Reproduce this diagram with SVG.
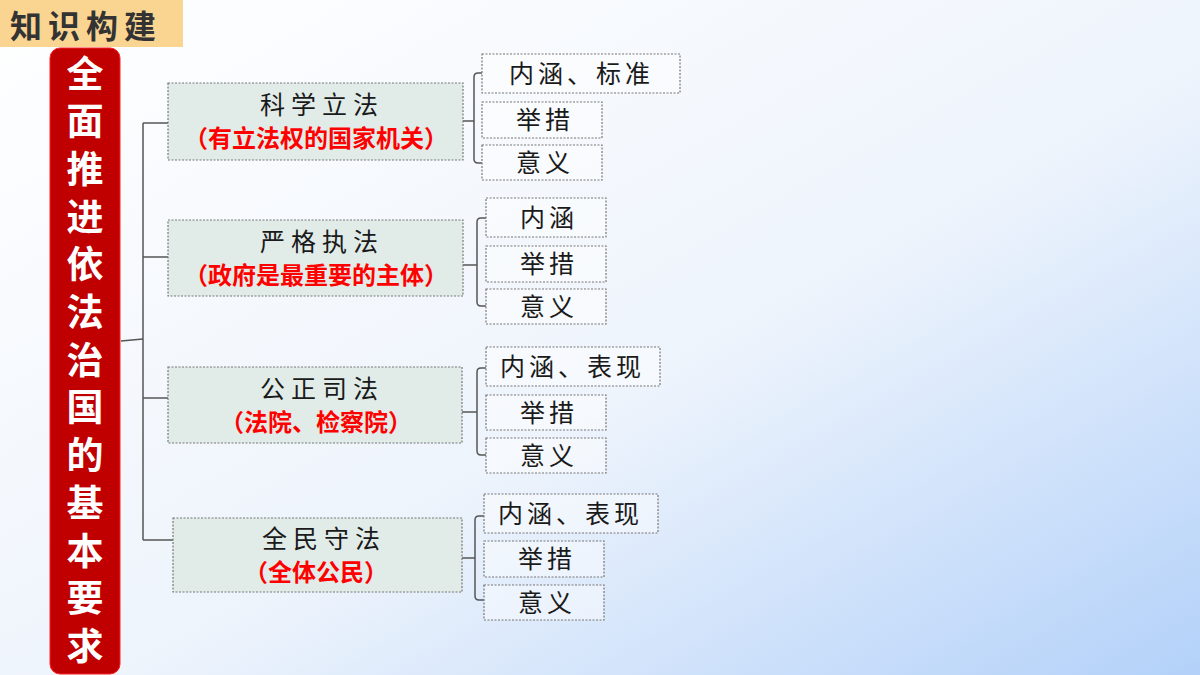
<svg xmlns="http://www.w3.org/2000/svg" width="1200" height="675" viewBox="0 0 1200 675">
<defs>
<linearGradient id="bg" x1="0" y1="0" x2="1" y2="1">
<stop offset="0" stop-color="#ffffff"/>
<stop offset="0.55" stop-color="#eef4fc"/>
<stop offset="1" stop-color="#b3d1f9"/>
</linearGradient>
<style>
.main{fill:#e1ece8;stroke:#777;stroke-width:1.2;stroke-dasharray:2 1.5}
.sub{fill:#ffffff;fill-opacity:0.45;stroke:#777;stroke-width:1.2;stroke-dasharray:2 1.5}
.t{font-family:"Noto Sans CJK SC",sans-serif;font-size:25px;fill:#1a1a1a;text-anchor:middle;letter-spacing:6px}
.r{font-family:"Noto Sans CJK SC",sans-serif;font-size:24px;font-weight:bold;fill:#ff0000;text-anchor:middle}
.s{font-family:"Noto Sans CJK SC",sans-serif;font-size:25px;fill:#1a1a1a;letter-spacing:4px}
.v{font-family:"Noto Sans CJK SC",sans-serif;font-size:37px;font-weight:bold;fill:#ffffff;writing-mode:vertical-rl;letter-spacing:10.7px}
.c{fill:none;stroke:#555;stroke-width:1.5}
</style>
</defs>
<rect x="0" y="0" width="1200" height="675" fill="url(#bg)"/>

<g id="title">
<rect x="0" y="0" width="183" height="47" fill="#fad592"/>
<text x="10" y="38" font-family="Noto Sans CJK SC, sans-serif" font-size="32" font-weight="bold" fill="#333" letter-spacing="6">知识构建</text>
</g>

<g id="root">
<rect x="50" y="48" width="70" height="626" rx="10" fill="#c00000" stroke="#ff2020" stroke-width="1"/>
<text class="v" x="85" y="55">全面推进依法治国的基本要求</text>
</g>

<g id="connectors">
<path class="c" d="M121 341 L143 339"/>
<path class="c" d="M143 123 L143 540"/>
<path class="c" d="M143 123 H168 M143 257 H168 M143 398 H168 M143 540 H173"/>
<path class="c" d="M463 121 H474 M482 73 H478 Q474 73 474 77 V159 Q474 163 478 163 H482"/>
<path class="c" d="M463 265 H477 M486 218 H481 Q477 218 477 222 V302 Q477 306 481 306 H486"/>
<path class="c" d="M462 412 H477 M486 368 H481 Q477 368 477 372 V451 Q477 455 481 455 H486"/>
<path class="c" d="M462 558 H475 M484 516 H479 Q475 516 475 520 V596 Q475 600 479 600 H484"/>
</g>

<g id="n1">
<rect class="main" x="168" y="83" width="295" height="77"/>
<text class="t" x="322" y="114">科学立法</text>
<text class="r" x="316" y="147">（有立法权的国家机关）</text>
</g>
<g id="n1a"><rect class="sub" x="482" y="54" width="198" height="39"/><text class="s" x="509" y="83">内涵、标准</text></g>
<g id="n1b"><rect class="sub" x="482" y="102" width="120" height="36"/><text class="s" x="516" y="129">举措</text></g>
<g id="n1c"><rect class="sub" x="482" y="145" width="120" height="35"/><text class="s" x="516" y="172">意义</text></g>

<g id="n2">
<rect class="main" x="168" y="220" width="295" height="76"/>
<text class="t" x="322" y="251">严格执法</text>
<text class="r" x="316" y="284">（政府是最重要的主体）</text>
</g>
<g id="n2a"><rect class="sub" x="486" y="198" width="120" height="39"/><text class="s" x="520" y="227">内涵</text></g>
<g id="n2b"><rect class="sub" x="486" y="246" width="120" height="36"/><text class="s" x="520" y="273">举措</text></g>
<g id="n2c"><rect class="sub" x="486" y="289" width="120" height="35"/><text class="s" x="520" y="316">意义</text></g>

<g id="n3">
<rect class="main" x="168" y="367" width="294" height="76"/>
<text class="t" x="322" y="398">公正司法</text>
<text class="r" x="316" y="431">（法院、检察院）</text>
</g>
<g id="n3a"><rect class="sub" x="486" y="347" width="174" height="39"/><text class="s" x="500" y="376">内涵、表现</text></g>
<g id="n3b"><rect class="sub" x="486" y="395" width="120" height="35"/><text class="s" x="520" y="422">举措</text></g>
<g id="n3c"><rect class="sub" x="486" y="438" width="120" height="35"/><text class="s" x="520" y="465">意义</text></g>

<g id="n4">
<rect class="main" x="173" y="518" width="289" height="74"/>
<text class="t" x="324" y="548">全民守法</text>
<text class="r" x="316" y="581">（全体公民）</text>
</g>
<g id="n4a"><rect class="sub" x="484" y="494" width="174" height="39"/><text class="s" x="498" y="523">内涵、表现</text></g>
<g id="n4b"><rect class="sub" x="484" y="541" width="120" height="36"/><text class="s" x="518" y="568">举措</text></g>
<g id="n4c"><rect class="sub" x="484" y="585" width="120" height="35"/><text class="s" x="518" y="612">意义</text></g>
</svg>
